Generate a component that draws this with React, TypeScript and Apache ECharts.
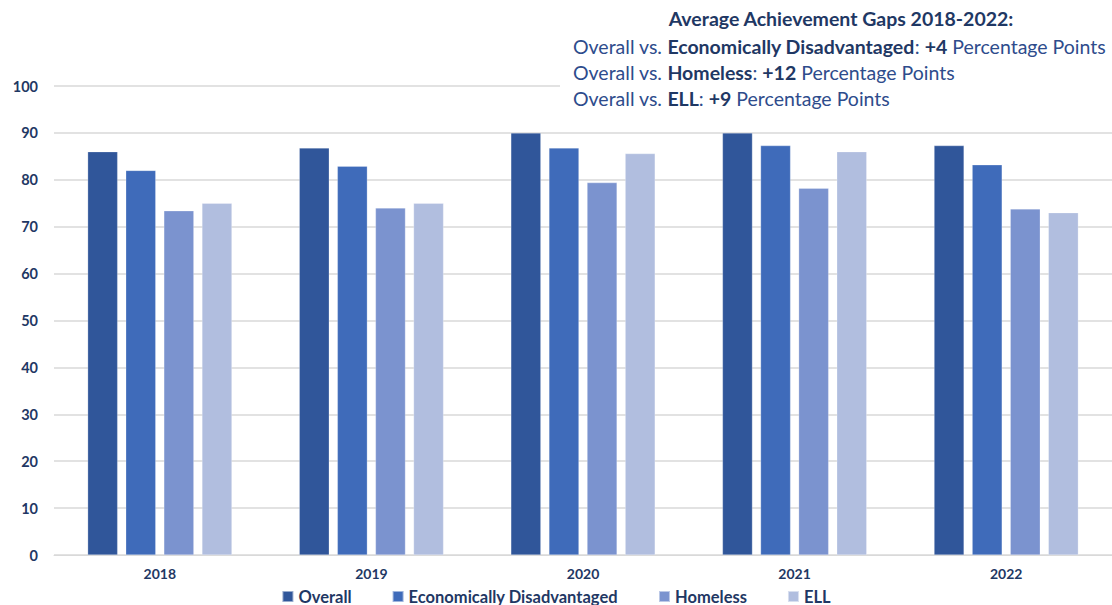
import React, { useEffect, useRef } from "react";
import * as echarts from "echarts";

const categories = ["2018", "2019", "2020", "2021", "2022"];
const overall = [86, 86.8, 90, 90, 87.3];
const econDisadv = [82, 82.9, 86.8, 87.3, 83.2];
const homeless = [73.4, 74, 79.4, 78.2, 73.8];
const ell = [75, 75, 85.6, 86, 73];
const seriesNames = ["Overall", "Economically Disadvantaged", "Homeless", "ELL"];
const seriesColors = ["#30569A", "#3F6BBA", "#7B93CF", "#B1BEDF"];
const yTicks = { min: 0, max: 100, interval: 10 };

const FONT = "Lato, 'Noto Sans', sans-serif";
const DARK = "#1F3864";
const MID = "#2E4C8C";

export default function App() {
  const ref = useRef<HTMLDivElement>(null);
  useEffect(() => {
    if (!ref.current) return;
    const chart = echarts.init(ref.current, null, { renderer: "svg" });
    const data = [overall, econDisadv, homeless, ell];
    const rich = {
      n: { fontFamily: FONT, fontSize: 19.5, fill: MID },
      b: { fontFamily: FONT, fontSize: 19.5, fill: DARK, fontWeight: "bold" as const },
    };
    chart.setOption({
      animation: false,
      backgroundColor: "#ffffff",
      textStyle: { fontFamily: FONT },
      grid: { left: 54, right: -2, top: 86, bottom: 50, containLabel: false },
      legend: {
        bottom: 0,
        left: "center",
        itemWidth: 11,
        itemHeight: 11,
        itemGap: 40,
        icon: "rect",
        padding: 0,
        textStyle: { fontFamily: FONT, fontSize: 16.5, lineHeight: 17, fontWeight: "bold", color: DARK },
        data: seriesNames,
      },
      xAxis: {
        type: "category",
        data: categories,
        axisLine: { lineStyle: { color: "#D9D9D9" } },
        axisTick: { show: false },
        axisLabel: { fontFamily: FONT, fontSize: 14, fontWeight: "bold", color: DARK, margin: 11 },
      },
      yAxis: {
        type: "value",
        min: yTicks.min,
        max: yTicks.max,
        interval: yTicks.interval,
        axisLine: { show: false },
        axisTick: { show: false },
        splitLine: { lineStyle: { color: "#D9D9D9", width: 1.5 } },
        axisLabel: { fontFamily: FONT, fontSize: 14.5, fontWeight: "bold", color: DARK, margin: 16 },
      },
      series: seriesNames.map((name, i) => ({
        name,
        type: "bar",
        data: data[i],
        barWidth: 30,
        barGap: "27%",
        itemStyle: { color: seriesColors[i], borderColor: "rgba(255,255,255,0.5)", borderWidth: 0.5 },
      })),
      graphic: [
        { type: "rect", left: 560, top: 0, shape: { width: 552, height: 108 }, style: { fill: "#ffffff" }, z: 10 },
        {
          type: "text", x: 841, y: 18, z: 11,
          style: { text: "Average Achievement Gaps 2018-2022:", fontFamily: FONT, fontSize: 19.5, fontWeight: "bold", fill: DARK, align: "center", verticalAlign: "middle" },
        },
        {
          type: "text", x: 573, y: 46, z: 11,
          style: { text: "{n|Overall vs. }{b|Economically Disadvantaged}{n|: }{b|+4}{n| Percentage Points}", rich, verticalAlign: "middle" },
        },
        {
          type: "text", x: 573, y: 72, z: 11,
          style: { text: "{n|Overall vs. }{b|Homeless}{n|: }{b|+12}{n| Percentage Points}", rich, verticalAlign: "middle" },
        },
        {
          type: "text", x: 573, y: 98, z: 11,
          style: { text: "{n|Overall vs. }{b|ELL}{n|: }{b|+9}{n| Percentage Points}", rich, verticalAlign: "middle" },
        },
      ],
    });
    return () => chart.dispose();
  }, []);
  return <div ref={ref} style={{ position: "absolute", left: 0, top: 0, width: 1112, height: 605 }} />;
}
